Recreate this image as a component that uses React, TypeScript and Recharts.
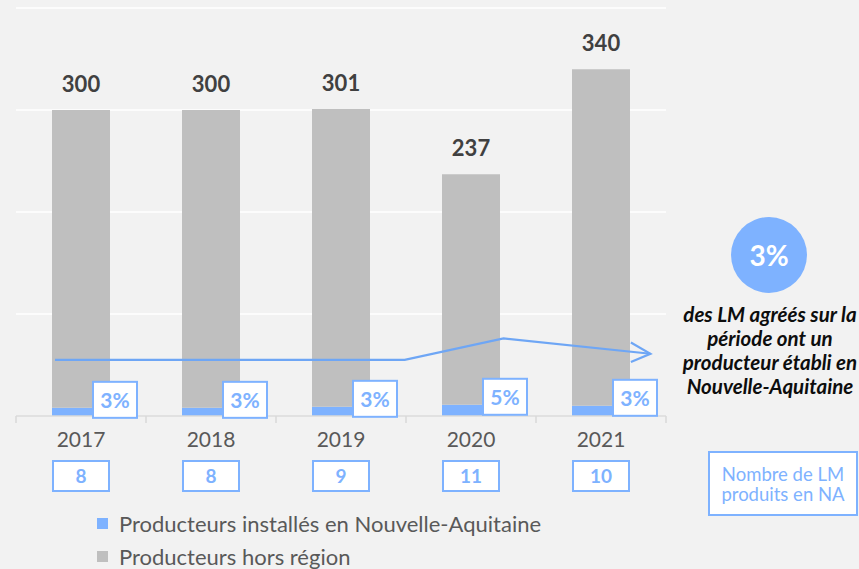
import React from "react"
import { BarChart, Bar, XAxis, YAxis, CartesianGrid, LabelList } from "recharts"

const years = ["2017", "2018", "2019", "2020", "2021"]
const naProducers = [8, 8, 9, 11, 10]
const totals = [300, 300, 301, 237, 340]
const yTicks = [0, 100, 200, 300, 400]

// annotation arrow, in (position along the 5 categories, value) coordinates
const arrowLine = [[0.3, 55], [2.99, 55], [3.75, 76], [4.88, 61]]
const arrowHead = [[4.73, 72], [4.88, 61], [4.73, 53]]

const W = 859
const H = 569
const X_AXIS_H = 153
const MARGIN = { top: 8, right: 193, left: 16, bottom: 0 }
const PLOT_W = W - MARGIN.left - MARGIN.right
const PLOT_H = H - MARGIN.top - MARGIN.bottom - X_AXIS_H
const STEP = PLOT_W / years.length
const Y_MAX = yTicks[yTicks.length - 1]

const BLUE = "#7EB2FF"
const GREY = "#BFBFBF"
const BG = "#F2F2F2"
const FONT = "Lato, 'Open Sans', sans-serif"

const data = years.map((y, i) => ({
  year: y,
  na: naProducers[i],
  other: totals[i] - naProducers[i],
  total: totals[i],
  count: naProducers[i],
  pct: Math.round((naProducers[i] / totals[i]) * 100) + "%",
}))

function YearTick(props: any) {
  const { x, y, payload, index } = props
  const d = data[index]
  return (
    <g>
      <line x1={x - STEP / 2} x2={x - STEP / 2} y1={y} y2={y + 7} stroke="#D9D9D9" strokeWidth={1.5} />
      {index === years.length - 1 && (
        <line x1={x + STEP / 2} x2={x + STEP / 2} y1={y} y2={y + 7} stroke="#D9D9D9" strokeWidth={1.5} />
      )}
      <text x={x} y={y + 31} textAnchor="middle" fill="#595959" fontSize={21} fontFamily={FONT}>
        {payload.value}
      </text>
      <rect x={x - 28} y={y + 45} width={56} height={30} fill="#fff" stroke={BLUE} strokeWidth={2} />
      <text x={x} y={y + 67} textAnchor="middle" fill={BLUE} fontSize={19} fontWeight={700} fontFamily={FONT}>
        {d ? d.count : ""}
      </text>
    </g>
  )
}

function PctLabel(props: any) {
  const { x, y, width, index } = props
  const d = data[index]
  const bx = x + width / 2 + 12
  const by = y - 26
  return (
    <g>
      <rect x={bx} y={by} width={44} height={36} fill="#fff" stroke={BLUE} strokeWidth={2} />
      <text x={bx + 22} y={by + 26} textAnchor="middle" fill={BLUE} fontSize={21} fontWeight={700} fontFamily={FONT}>
        {d.pct}
      </text>
    </g>
  )
}

function TotalLabel(props: any) {
  const { x, y, width, index } = props
  return (
    <text x={x + width / 2} y={y - 18} textAnchor="middle" fill="#404040" fontSize={22} fontWeight={700} fontFamily={FONT}>
      {data[index].total}
    </text>
  )
}

// same linear mapping as the chart's plot area
const toPx = (p: number[]) =>
  `${MARGIN.left + p[0] * STEP},${MARGIN.top + (1 - p[1] / Y_MAX) * PLOT_H}`

export default function App() {
  return (
    <div style={{ position: "relative", width: W, height: H, background: BG, fontFamily: FONT, overflow: "hidden" }}>
      <style>{"body{margin:0}"}</style>
      <BarChart width={W} height={H} data={data} margin={MARGIN}>
        <CartesianGrid horizontal vertical={false} stroke="#FFFFFF" strokeWidth={1.5} />
        <YAxis hide domain={[0, Y_MAX]} ticks={yTicks} />
        <XAxis
          dataKey="year"
          height={X_AXIS_H}
          axisLine={{ stroke: "#D9D9D9", strokeWidth: 1.5 }}
          tickLine={false}
          tickSize={0}
          tickMargin={0}
          tick={<YearTick />}
          interval={0}
        />
        <Bar dataKey="na" stackId="a" fill={BLUE} barSize={58} isAnimationActive={false}>
          <LabelList dataKey="pct" content={<PctLabel />} />
        </Bar>
        <Bar dataKey="other" stackId="a" fill={GREY} barSize={58} isAnimationActive={false}>
          <LabelList dataKey="total" content={<TotalLabel />} />
        </Bar>
      </BarChart>

      <svg width={W} height={H} style={{ position: "absolute", left: 0, top: 0, pointerEvents: "none" }}>
        <polyline points={arrowLine.map(toPx).join(" ")} fill="none" stroke="#6EA6F5" strokeWidth={2.2} />
        <polyline points={arrowHead.map(toPx).join(" ")} fill="none" stroke="#6EA6F5" strokeWidth={2.2} />
      </svg>

      <div style={{ position: "absolute", left: 97, top: 507, color: "#595959", fontSize: 22, lineHeight: "33px" }}>
        {[
          { label: "Producteurs installés en Nouvelle-Aquitaine", color: BLUE },
          { label: "Producteurs hors région", color: GREY },
        ].map((it) => (
          <div key={it.label} style={{ display: "flex", alignItems: "center" }}>
            <span style={{ display: "inline-block", width: 11, height: 11, background: it.color, marginRight: 11 }} />
            {it.label}
          </div>
        ))}
      </div>

      <div
        style={{
          position: "absolute", left: 731, top: 217, width: 76, height: 76, borderRadius: "50%", background: BLUE,
          color: "#fff", fontWeight: 700, fontSize: 28, display: "flex", alignItems: "center", justifyContent: "center",
        }}
      >
        3%
      </div>
      <div
        style={{
          position: "absolute", left: 660, top: 302, width: 220, textAlign: "center", fontStyle: "italic",
          fontWeight: 700, fontSize: 20.5, lineHeight: "24px", color: "#0D0D0D",
        }}
      >
        des LM agréés sur la
        <br />
        période ont un
        <br />
        producteur établi en
        <br />
        Nouvelle-Aquitaine
      </div>
      <div
        style={{
          position: "absolute", left: 708, top: 451, width: 146, height: 61, border: `2px solid ${BLUE}`,
          background: "#fff", color: BLUE, fontSize: 18.5, lineHeight: "20px", textAlign: "center",
          display: "flex", alignItems: "center", justifyContent: "center",
        }}
      >
        Nombre de LM
        <br />
        produits en NA
      </div>
    </div>
  )
}
